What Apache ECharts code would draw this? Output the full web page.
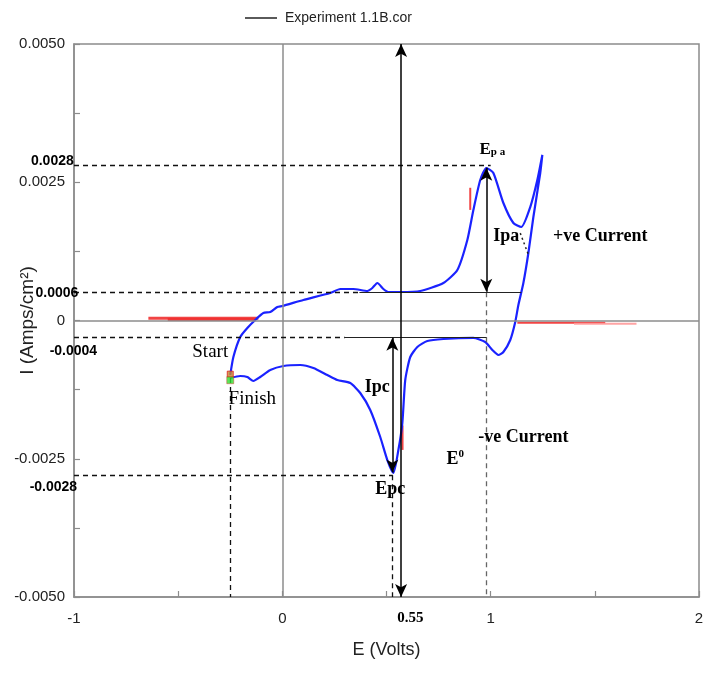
<!DOCTYPE html>
<html><head><meta charset="utf-8">
<script src="https://cdn.jsdelivr.net/npm/echarts@6/dist/echarts.min.js"></script>
<style>html,body{margin:0;padding:0;background:#fff}#c{width:706px;height:673px}</style>
</head><body><div id="c"></div>
<script>
// ---- data (E in volts, I in A/cm^2) ----
const scanE = [-0.250,-0.235,-0.202,-0.168,-0.125,-0.091,-0.058,-0.024,0.000,0.101,0.230,0.278,0.341,0.408,0.432,0.456,0.485,0.509,0.566,0.662,0.773,0.840,0.888,0.917,0.950,0.979,1.013,1.061,1.109,1.147,1.190,1.224,1.248,
  1.238,1.205,1.181,1.157,1.133,1.118,1.094,1.061,1.037,1.008,0.974,0.917,0.773,0.696,0.648,0.614,0.590,0.576,0.557,0.533,0.504,0.470,0.422,0.374,0.326,0.264,0.216,0.149,0.086,0.005,-0.058,-0.106,-0.139,-0.168,-0.202,-0.250];
const scanI = [-0.000985,-0.000660,-0.000298,-0.000136,0.000027,0.000136,0.000154,0.000244,0.000262,0.000371,0.000497,0.000570,0.000570,0.000533,0.000588,0.000678,0.000570,0.000515,0.000515,0.000533,0.000678,0.000913,0.001456,0.001998,0.002541,0.002758,0.002667,0.002125,0.001763,0.001691,0.002052,0.002541,0.002993,
  0.002667,0.001872,0.001221,0.000678,0.000280,-0.000027,-0.000353,-0.000570,-0.000624,-0.000533,-0.000389,-0.000316,-0.000335,-0.000371,-0.000479,-0.000660,-0.001076,-0.001854,-0.002342,-0.002758,-0.002523,-0.002107,-0.001618,-0.001311,-0.001130,-0.001076,-0.000986,-0.000859,-0.000805,-0.000823,-0.000895,-0.001022,-0.001094,-0.001022,-0.001004,-0.001040];

// red residual traces
const redSegE = [[-0.643,-0.115],[-0.55,-0.13],[1.128,1.55],[1.40,1.70],[0.902,0.902],[0.577,0.577]];
const redSegI = [[0.00004,0.00004],[0.00002,0.00002],[-0.00004,-0.00004],[-0.00006,-0.00006],[0.0020,0.0024],[-0.0019,-0.00234]];

// start / finish markers
const startPt = [-0.250, -0.00097];
const finishPt = [-0.250, -0.00108];

// guide lines
const dashE = [[-1,1.0],[-1,0.37],[-1,0.30],[-1,0.53],[-0.25,-0.25],[0.529,0.529]];
const dashI = [[0.0028,0.0028],[0.00051,0.00051],[-0.00031,-0.00031],[-0.0028,-0.0028],[-0.00104,-0.005],[-0.0028,-0.005]];
const greyDashE = [[0.98,0.98]];
const greyDashI = [[0.00051,-0.005]];
const solidE = [[0.37,1.147],[0.30,0.98]];
const solidI = [[0.00051,0.00051],[-0.00031,-0.00031]];
const arrowE = [[0.57,0.57],[0.528,0.528],[0.979,0.979]];
const arrowI = [[0.005,-0.005],[-0.00031,-0.00275],[0.00276,0.00052]];
const dotE = [[1.142,1.18]];
const dotI = [[0.00158,0.0012]];
const zeroE = [[0,0],[-1,2]];
const zeroI = [[-0.005,0.005],[0,0]];

// annotation texts
const noteText = ['0.0028','0.0006','-0.0004','-0.0028','Epa','Ipa','+ve Current','Ipc','-ve Current','E0','Epc','Start','Finish','0.55'];
const noteE = [-1.104,-1.082,-1.003,-1.099,1.008,1.075,1.526,0.456,1.157,0.830,0.518,-0.346,-0.144,0.614];
const noteI = [0.00288,0.000497,-0.000552,-0.00301,0.0031,0.00153,0.00153,-0.0012,-0.00211,-0.00249,-0.00305,-0.00057,-0.00142,-0.00538];

const xTicks = {min:-1, max:2, interval:1};
const yTicks = {min:-0.005, max:0.005, interval:0.0025};

// ---- build ----
const chart = echarts.init(document.getElementById('c'), null, {renderer:'canvas'});
const SANS = 'Liberation Sans, Arial, sans-serif';
const SERIF = 'Liberation Serif, Times New Roman, serif';
const INK = '#000';
const guideData = [];
function addGuides(Es, Is, style, sym){
  Es.forEach((p,k)=>{
    guideData.push([
      {coord:[p[0], Is[k][0]], symbol: sym, lineStyle: style},
      {coord:[p[1], Is[k][1]], symbol: sym}
    ]);
  });
}
addGuides(zeroE, zeroI, {color:'#8c8c8c', width:1.5, type:'solid'}, 'none');
addGuides(dashE, dashI, {color:'#111', width:1.3, type:[5,4]}, 'none');
addGuides(greyDashE, greyDashI, {color:'#666', width:1.3, type:[5,4]}, 'none');
addGuides(solidE, solidI, {color:'#222', width:1.2, type:'solid'}, 'none');
addGuides(arrowE, arrowI, {color:'#000', width:1.5, type:'solid'}, 'arrow');
addGuides(dotE, dotI, {color:'#222', width:1.5, type:[2,3]}, 'none');

function noteLabel(t){
  if (/^-?0\.00/.test(t)) return {formatter:t, fontFamily:SANS, fontWeight:'bold', fontSize:14, color:INK};
  if (t==='Start' || t==='Finish') return {formatter:t, fontFamily:SERIF, fontSize:19, color:INK};
  if (t==='Epa') return {formatter:'{e|E}{s|p a}', rich:{e:{fontFamily:SERIF,fontWeight:'bold',fontSize:17,color:INK,lineHeight:18,verticalAlign:'bottom'},s:{fontFamily:SERIF,fontWeight:'bold',fontSize:11,color:INK,lineHeight:18,verticalAlign:'bottom'}}};
  if (t==='E0') return {formatter:'{e|E}{s|0}', rich:{e:{fontFamily:SERIF,fontWeight:'bold',fontSize:18,color:INK,lineHeight:20,verticalAlign:'bottom'},s:{fontFamily:SERIF,fontWeight:'bold',fontSize:11,color:INK,lineHeight:20,verticalAlign:'top'}}};
  if (t==='0.55') return {formatter:t, fontFamily:SERIF, fontWeight:'bold', fontSize:15, color:INK};
  return {formatter:t, fontFamily:SERIF, fontWeight:'bold', fontSize:18, color:INK};
}
const notes = noteText.map((t,k)=>({value:[noteE[k], noteI[k]], label:Object.assign({show:true, position:'inside', opacity:1}, noteLabel(t))}));

const series = [
  {name:'Experiment 1.1B.cor', type:'line', data:[], symbol:'none', lineStyle:{color:'#000', width:1}, itemStyle:{color:'#000'}},
];
redSegE.forEach((e,k)=>{
  series.push({type:'line', data:e.map((x,j)=>[x, redSegI[k][j]]), symbol:'none', silent:true,
    lineStyle:{color: k===3 ? '#ff9a9a' : '#f03030', width: k<2 ? 3 : 2, opacity:0.9}});
});
series.push({name:'cv', type:'line', data:scanE.map((x,k)=>[x, scanI[k]]), symbol:'none', smooth:0.2, silent:true,
  lineStyle:{color:'#1a22ff', width:2.2}, z:3,
  markLine:{silent:true, animation:false, symbol:['none','none'], symbolSize:[9,13], label:{show:false}, emphasis:{disabled:true}, data:guideData}});
series.push({type:'scatter', data:[startPt], symbol:'rect', symbolSize:6, itemStyle:{color:'#c8862a', borderColor:'#e02020', borderWidth:1}, z:5, silent:true});
series.push({type:'scatter', data:[finishPt], symbol:'rect', symbolSize:7, itemStyle:{color:'#2fe02f', borderColor:'#e02020', borderWidth:0.5}, z:5, silent:true});
series.push({type:'scatter', data:notes, symbolSize:1, itemStyle:{color:'rgba(0,0,0,0)'}, clip:false, silent:true, z:6});

const axisCommon = {
  axisLine:{show:true, onZero:false, lineStyle:{color:'#8c8c8c', width:1.5}},
  axisTick:{show:true, inside:true, length:6, lineStyle:{color:'#8c8c8c', width:1.2}},
  minorTick:{show:true, splitNumber:2, length:6, lineStyle:{color:'#8c8c8c', width:1.2}},
  splitLine:{show:false},
  nameMoveOverlap:false
};

chart.setOption({
  animation:false,
  backgroundColor:'#fff',
  grid:{left:74, right:7, top:44, bottom:76, containLabel:false, outerBoundsMode:'none', show:true, borderColor:'#8c8c8c', borderWidth:1.5, backgroundColor:'transparent'},
  legend:{data:[{name:'Experiment 1.1B.cor', icon:'rect'}], left:240, top:6, itemWidth:32, itemHeight:1.3, textStyle:{fontFamily:SANS, fontSize:14, color:'#222', padding:[0,0,0,3]}},
  xAxis:Object.assign({type:'value', min:xTicks.min, max:xTicks.max, interval:xTicks.interval,
    name:'E (Volts)', nameLocation:'middle', nameGap:44, nameTextStyle:{fontFamily:SANS, fontSize:18, color:'#222'},
    axisLabel:{fontFamily:SANS, fontSize:15, color:'#222', margin:14}}, axisCommon),
  yAxis:Object.assign({type:'value', min:yTicks.min, max:yTicks.max, interval:yTicks.interval,
    name:'I (Amps/cm²)', nameLocation:'middle', nameGap:37, nameTextStyle:{fontFamily:SANS, fontSize:19, color:'#222'},
    axisLabel:{fontFamily:SANS, fontSize:15, color:'#222', margin:9, formatter:v=>Math.abs(v)<1e-12?'0':v.toFixed(4)}}, axisCommon),
  series:series
});
</script></body></html>
